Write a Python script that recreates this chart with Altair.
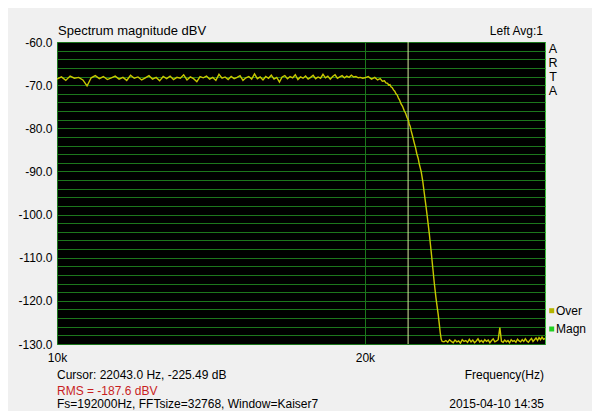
import altair as alt
import pandas as pd

# ---------------- data ----------------
flat_hz = [10000, 10100, 10200, 10300, 10400, 10500, 10600, 10700, 10800, 10900,
           11000, 11100, 11200, 11300, 11400, 11500, 11600, 11700, 11800, 11900,
           12000, 12100, 12200, 12300, 12400, 12500, 12600, 12700, 12800, 12900,
           13000, 13100, 13200, 13300, 13400, 13500, 13600, 13700, 13800, 13900,
           14000, 14100, 14200, 14300, 14400, 14500, 14600, 14700, 14800, 14900,
           15000, 15100, 15200, 15300, 15400, 15500, 15600, 15700, 15800, 15900,
           16000, 16100, 16200, 16300, 16400, 16500, 16600, 16700, 16800, 16900,
           17000, 17100, 17200, 17300, 17400, 17500, 17600, 17700, 17800, 17900,
           18000, 18100, 18200, 18300, 18400, 18500, 18600, 18700, 18800, 18900,
           19000, 19100, 19200, 19300, 19400, 19500, 19600, 19700, 19800, 19900]
flat_db = [-68.6, -68.1, -68.9, -67.9, -68.4, -68.2, -68.8, -70.2, -68.3, -67.8,
           -68.5, -68.0, -68.7, -68.3, -67.9, -68.6, -68.2, -68.9, -67.7, -68.4,
           -68.1, -68.8, -68.3, -67.8, -68.6, -68.2, -69.0, -68.0, -68.5, -67.9,
           -68.7, -68.2, -68.4, -67.6, -68.8, -68.1, -68.5, -69.2, -68.0, -68.3,
           -67.9, -68.6, -68.2, -68.9, -67.5, -68.4, -68.1, -68.7, -68.0, -68.5,
           -68.2, -67.8, -68.9, -68.3, -68.0, -68.6, -67.4, -68.5, -68.1, -68.8,
           -68.0, -68.4, -67.7, -68.6, -68.2, -69.3, -68.1, -67.8, -68.5, -68.0,
           -68.3, -67.6, -68.7, -68.1, -68.4, -67.9, -68.6, -68.2, -67.7, -68.5,
           -68.1, -68.4, -67.5, -68.3, -67.9, -68.6, -68.0, -67.6, -68.4, -68.1,
           -67.8, -68.3, -67.9, -68.2, -67.7, -68.1, -68.0, -68.3, -68.2, -68.4]

rolloff_hz = [20000, 20150, 20300, 20450, 20580, 20700, 20800, 20900, 20970, 21050,
              21100, 21160, 21210, 21270, 21330, 21390, 21450, 21510, 21570, 21630,
              21690, 21770, 21850, 21920, 21990, 22050, 22100, 22150, 22190, 22270,
              22350, 22420, 22480, 22550, 22610, 22700, 22780, 22860, 22950, 23030,
              23120, 23210, 23300, 23380, 23470, 23530, 23590, 23650, 23700, 23750,
              23800]
rolloff_db = [-68.3, -68.0, -68.6, -68.2, -68.8, -68.5, -69.1, -69.0, -69.5, -69.6,
              -70.0, -69.9, -70.4, -70.6, -71.1, -71.4, -72.0, -72.3, -73.0, -73.5,
              -74.3, -74.9, -75.9, -76.5, -77.5, -78.0, -79.0, -79.6, -80.5, -81.9,
              -83.4, -84.6, -85.9, -87.0, -88.4, -90.0, -92.2, -95.0, -98.1, -101.0,
              -104.4, -108.2, -112.2, -115.8, -119.3, -121.3, -123.2, -125.5, -127.5, -128.9,
              -129.4]

floor_hz = [23900, 24000, 24100, 24200, 24300, 24400, 24500, 24600, 24700, 24800,
            24900, 25000, 25100, 25200, 25300, 25400, 25500, 25600, 25700, 25800,
            25900, 26000, 26100, 26200, 26300, 26400, 26500, 26600, 26700, 26800,
            26900, 27000, 27100, 27200, 27300, 27400, 27500, 27600, 27700, 27800,
            27900, 28000, 28100, 28200, 28300, 28400, 28500, 28600, 28700, 28800,
            28900, 29000, 29100, 29200, 29300, 29400, 29500, 29600, 29700, 29800,
            29900, 30000]
floor_db = [-129.5, -129.2, -129.6, -129.0, -129.4, -129.7, -129.1, -129.5, -129.3, -129.8,
            -129.0, -129.4, -129.2, -129.6, -128.9, -129.5, -129.1, -129.7, -129.3, -128.8,
            -129.5, -129.2, -129.6, -129.0, -129.4, -129.1, -129.7, -129.2, -128.8, -129.5,
            -129.3, -129.0, -126.2, -129.4, -129.6, -129.1, -129.5, -129.2, -129.7, -129.0,
            -129.4, -129.2, -129.6, -128.9, -129.3, -129.5, -129.0, -129.4, -128.8, -129.3,
            -129.6, -129.1, -128.7, -129.4, -129.0, -128.6, -129.2, -128.5, -129.0, -128.4,
            -128.9, -128.7]

cursor_hz = [22043.0]

x_domain = [10000, 30000]
x_tick_values = [10000, 20000]
x_tick_labels = ["10k", "20k"]
y_domain = [-130, -60]
y_grid_values = [-60, -62, -64, -66, -68, -70, -72, -74, -76, -78,
                 -80, -82, -84, -86, -88, -90, -92, -94, -96, -98,
                 -100, -102, -104, -106, -108, -110, -112, -114, -116, -118,
                 -120, -122, -124, -126, -128, -130]

title_text = "Spectrum magnitude dBV"
right_top_text = "Left  Avg:1"
brand_letters = ["A", "R", "T", "A"]
legend_names = ["Over", "Magn"]
legend_colors = ["#b4b400", "#22d022"]
cursor_text = "Cursor: 22043.0 Hz, -225.49 dB"
rms_text = "RMS = -187.6 dBV"
fs_text = "Fs=192000Hz, FFTsize=32768, Window=Kaiser7"
xlabel_text = "Frequency(Hz)"
date_text = "2015-04-10  14:35"

# ---------------- chart ----------------
FONT = "Liberation Sans"
W, H = 488, 302

trace = pd.DataFrame({"hz": flat_hz + rolloff_hz + floor_hz,
                      "db": flat_db + rolloff_db + floor_db})

x_scale = alt.Scale(type="log", domain=x_domain, nice=False)
y_scale = alt.Scale(domain=y_domain, nice=False, zero=False)

x_label_expr = " : ".join(
    [f"datum.value == {v} ? '{t}'" for v, t in zip(x_tick_values, x_tick_labels)]
) + " : ''"

x_axis = alt.Axis(values=x_tick_values, labelExpr=x_label_expr, grid=True,
                  labelPadding=8, labelFlush=False, labelOverlap=False, title=None)
y_axis = alt.Axis(values=y_grid_values, grid=True, labelFlush=False, labelOverlap=False,
                  labelExpr="datum.value % 10 == 0 ? '-' + format(abs(datum.value), '.1f') : ''",
                  labelPadding=5, title=None)

cursor = alt.Chart(pd.DataFrame({"hz": cursor_hz})).mark_rule(
    color="#d8e8a0", strokeWidth=1
).encode(x=alt.X("hz:Q", scale=x_scale, axis=x_axis))

line = alt.Chart(trace).mark_line(color="#c8c800", strokeWidth=1.4, clip=True).encode(
    x=alt.X("hz:Q", scale=x_scale, axis=x_axis),
    y=alt.Y("db:Q", scale=y_scale, axis=y_axis),
)

one = pd.DataFrame({"k": [0]})


def label(text, x, y, size=12, align="left", baseline="middle", color="#000000", **kw):
    return alt.Chart(one).mark_text(
        text=text, align=align, baseline=baseline, fontSize=size, font=FONT,
        color=color, **kw
    ).encode(x=alt.value(x), y=alt.value(y))


def square(color, x, y):
    return alt.Chart(one).mark_square(size=25, color=color, opacity=1, filled=True).encode(
        x=alt.value(x), y=alt.value(y))


texts = [
    label(title_text, 1, -7, size=13, baseline="alphabetic"),
    label(right_top_text, 486, -7, size=12, align="right", baseline="alphabetic"),
]
for i, letter in enumerate(brand_letters):
    texts.append(label(letter, 496, 6.5 + i * 14, size=12.5, align="center"))
texts += [
    square(legend_colors[0], 494.7, 268.7),
    label(legend_names[0], 499, 268.7),
    square(legend_colors[1], 494.7, 287),
    label(legend_names[1], 499, 287),
    label(cursor_text, 0, 336.5, baseline="alphabetic"),
    label(rms_text, 0, 352.5, color="#c81e1e", baseline="alphabetic"),
    label(fs_text, 0, 366, baseline="alphabetic"),
    label(xlabel_text, 487, 336.5, align="right", baseline="alphabetic"),
    label(date_text, 487, 366, align="right", baseline="alphabetic"),
]

chart = alt.layer(cursor, line, *texts).properties(
    width=W, height=H,
    autosize=alt.AutoSizeParams(type="none"),
    padding={"left": 49, "top": 34, "right": 47, "bottom": 67},
    background="#f0f0f0",
).configure_view(
    fill="#000000", stroke="#40c040", strokeWidth=1
).configure_axis(
    domain=False, ticks=False, tickSize=0,
    labelFont=FONT, labelFontSize=12, labelColor="#000000",
    gridColor="#1c761c", gridOpacity=1, gridWidth=1,
)

chart.save("out.html", embed_options={"renderer": "svg", "actions": False})
